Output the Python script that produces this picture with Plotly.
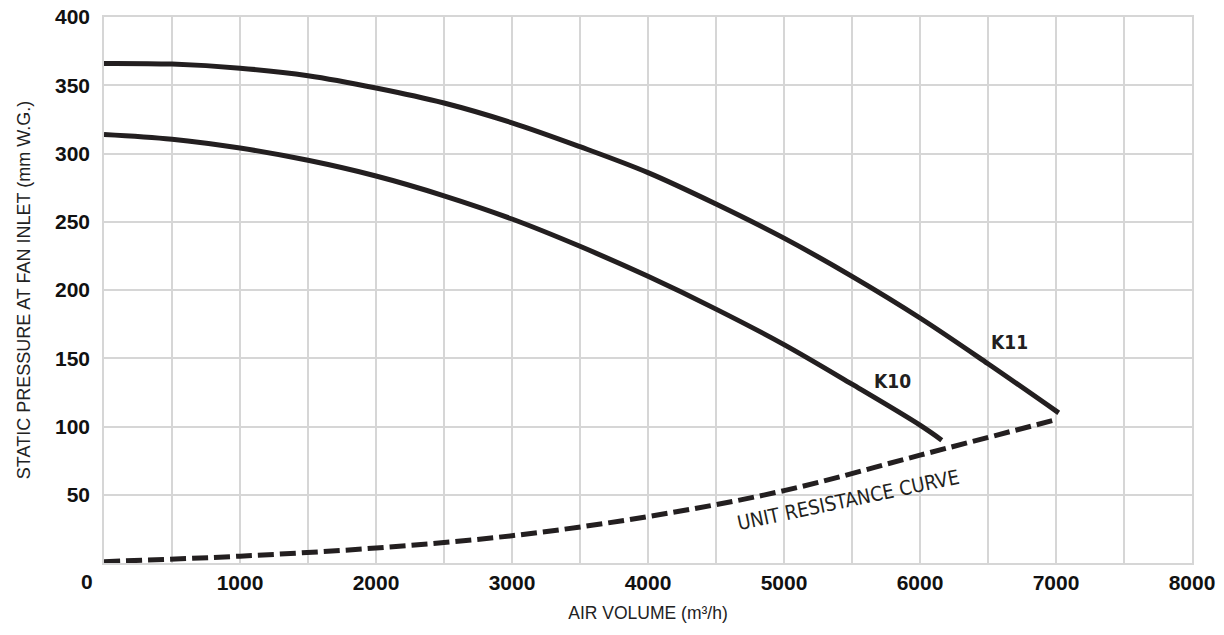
import plotly.graph_objects as go

air_volume_k11 = [0, 500, 1000, 1500, 2000, 2500, 3000, 3500, 4000, 4500, 5000, 5500, 6000, 6500, 7020]
pressure_k11 = [366, 365.5, 362.5, 357, 348, 337, 322.5, 305, 286, 263, 238, 210, 179.5, 146, 110]

air_volume_k10 = [0, 500, 1000, 1500, 2000, 2500, 3000, 3500, 4000, 4500, 5000, 5500, 6000, 6160]
pressure_k10 = [314, 310.5, 304, 295, 283.5, 269, 252, 232, 210, 186, 160, 131, 101, 90]

air_volume_unit = [0, 1000, 2000, 3000, 4000, 5000, 6000, 7000]
pressure_unit = [1, 5, 11, 20, 34, 53, 79, 105]

x_ticks = [0, 1000, 2000, 3000, 4000, 5000, 6000, 7000, 8000]
y_ticks = [50, 100, 150, 200, 250, 300, 350, 400]

ink = "#231f20"
grid = "#d6d6d6"
tick_font = dict(size=21, family="Liberation Sans, Arial, sans-serif", weight="bold", color="#111111")

fig = go.Figure()
fig.add_trace(go.Scatter(x=air_volume_k11, y=pressure_k11, mode="lines",
                         line=dict(color=ink, width=5, shape="spline"), hoverinfo="skip"))
fig.add_trace(go.Scatter(x=air_volume_k10, y=pressure_k10, mode="lines",
                         line=dict(color=ink, width=5, shape="spline"), hoverinfo="skip"))
fig.add_trace(go.Scatter(x=air_volume_unit, y=pressure_unit, mode="lines",
                         line=dict(color=ink, width=5, shape="spline", dash="16px,6px"), hoverinfo="skip"))

narrow = "DejaVu Sans Condensed, Liberation Sans Narrow, sans-serif"
fig.add_annotation(x=5800, y=133, text="<b>K10</b>", showarrow=False,
                   font=dict(family=narrow, size=19, color=ink))
fig.add_annotation(x=6660, y=162, text="<b>K11</b>", showarrow=False,
                   font=dict(family=narrow, size=19, color=ink))
fig.add_annotation(x=5470, y=46, text="UNIT RESISTANCE CURVE", showarrow=False, textangle=-12,
                   font=dict(family=narrow, size=20, color=ink))

# the "0" of the x axis sits left of the origin in the reference
fig.add_annotation(x=x_ticks[0], y=0, yref="paper", yanchor="top", xanchor="center",
                   text=str(x_ticks[0]), showarrow=False, xshift=-17, yshift=-5,
                   font=tick_font)

fig.update_layout(
    width=1224, height=635,
    margin=dict(l=104, r=32, t=17, b=72),
    paper_bgcolor="white", plot_bgcolor="white",
    showlegend=False,
    font=dict(family="Liberation Sans, Arial, sans-serif", color="#111111"),
    xaxis=dict(range=[0, 8000], tickvals=x_ticks[1:], ticktext=[str(v) for v in x_ticks[1:]],
               automargin=False,
               showgrid=True, gridcolor=grid, gridwidth=1.5,
               minor=dict(dtick=500, showgrid=True, gridcolor=grid, gridwidth=1.5),
               zeroline=False, showline=True, linecolor=grid, linewidth=1.5, mirror=True,
               ticks="", ticklabelstandoff=0,
               tickfont=tick_font,
               title=dict(text="AIR VOLUME (m³/h)", font=dict(size=17.5, color="#222"), standoff=14)),
    yaxis=dict(range=[0, 400], tickvals=y_ticks, ticktext=[str(v) for v in y_ticks],
               automargin=False,
               showgrid=True, gridcolor=grid, gridwidth=1.5,
               zeroline=False, showline=True, linecolor=grid, linewidth=1.5, mirror=True,
               ticks="", ticklabelstandoff=8,
               tickfont=tick_font,
               title=dict(text="STATIC PRESSURE AT FAN INLET (mm W.G.)", font=dict(size=18, color="#222"), standoff=20)),
)

fig.write_html("out.html", config={"displayModeBar": False},
               post_script="document.body.style.margin='0';")
